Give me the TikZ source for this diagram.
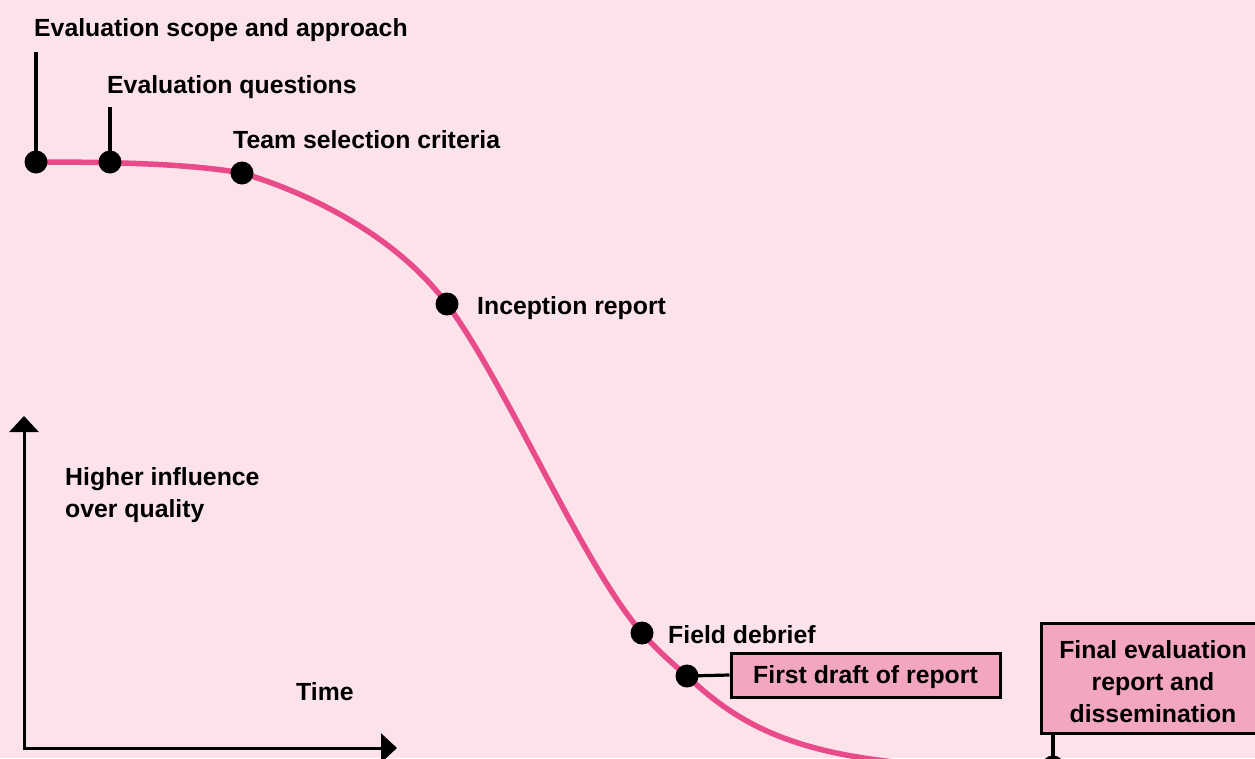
\documentclass[tikz,border=0pt]{standalone}
\usepackage{fontspec}
\setmainfont{Liberation Sans}
\usepackage{tikz}
\usetikzlibrary{arrows.meta,positioning}
\definecolor{bgpink}{RGB}{251,227,233}
\definecolor{linepink}{RGB}{232,74,138}
\definecolor{boxpink}{RGB}{242,166,191}
\tikzset{
    milestone/.style={
        circle,
        fill=black,
        inner sep=0pt,
        minimum size=23pt
    },
    lbl/.style={
        font=\fontsize{24.8}{31.5}\selectfont\bfseries,
        anchor=base west,
        inner sep=0pt,
        align=left
    },
    stagebox/.style={
        draw,
        line width=3pt,
        fill=boxpink,
        align=center,
        inner sep=0pt,
        text depth=0pt,
        font=\fontsize{24.8}{32}\selectfont\bfseries
    },
    leader/.style={line width=3.2pt},
    curve/.style={line width=5.5pt, linepink},
    axis/.style={-{Triangle[length=16pt,width=29pt]}, line width=3pt}
}

\begin{document}
\begin{tikzpicture}[x=1pt,y=-1pt]
        \clip (0,0) rectangle (1255,758);
        \fill[bgpink] (0,0) rectangle (1255,758);

        % points on the curve
        \coordinate (scopept) at (36,162);
        \coordinate (questpt) at (110,162);
        \coordinate (teampt) at (242,173);
        \coordinate (inceppt) at (447,304);
        \coordinate (fieldpt) at (642,633);
        \coordinate (draftpt) at (687,676);
        \coordinate (finalpt) at (1053,767);

        \draw[curve] (scopept) .. controls (120,162) and (190,164) .. (teampt)
            .. controls (312,194) and (397,237) .. (inceppt)
            .. controls (507,385) and (582,564) .. (fieldpt)
            .. controls (657,650) and (672,663) .. (draftpt)
            .. controls (750,735) and (820,772) .. (finalpt)
            -- ++(220,0);

        % axes
        \coordinate (origin) at (24,748);
        \coordinate (ytop) at (24,416);
        \coordinate (xend) at (397,748);
        \draw[axis] (origin) -- (ytop);
        \draw[axis] ([xshift=-1.5pt]origin) -- (xend);

        % labels
        \node[lbl] (scope) at (34,36) {Evaluation scope and approach};
        \node[lbl] (quest) at (107,93) {Evaluation questions};
        \node[lbl] (team) at (233,148) {Team selection criteria};
        \node[lbl] (incep) at (477,314) {Inception report};
        \node[lbl] (field) at (668,643) {Field debrief};
        \node[lbl] (influence) at (65,517) {Higher influence\\over quality};
        \node[lbl] (time) at (296,700) {Time};

        \node[stagebox, minimum width=269pt, minimum height=44pt] (draft) at (865.5,675) {First draft of report};
        \node[stagebox, minimum width=224pt, minimum height=110pt, text height=88pt] (final) at (1153,678) {Final evaluation\\report and\\dissemination};

        \coordinate (scopetop) at (36,52);
        \coordinate (questtop) at (110,107);
        \draw[leader] (scopetop) -- (scopept);
        \draw[leader] (questtop) -- (questpt);
        \draw[leader] (draftpt) -- (draft.west);
        \draw[leader] (finalpt |- final.south) -- (finalpt);

        \foreach \p in {scopept,questpt,teampt,inceppt,fieldpt,draftpt,finalpt}
            \node[milestone] at (\p) {};
    \end{tikzpicture}
\end{document}
